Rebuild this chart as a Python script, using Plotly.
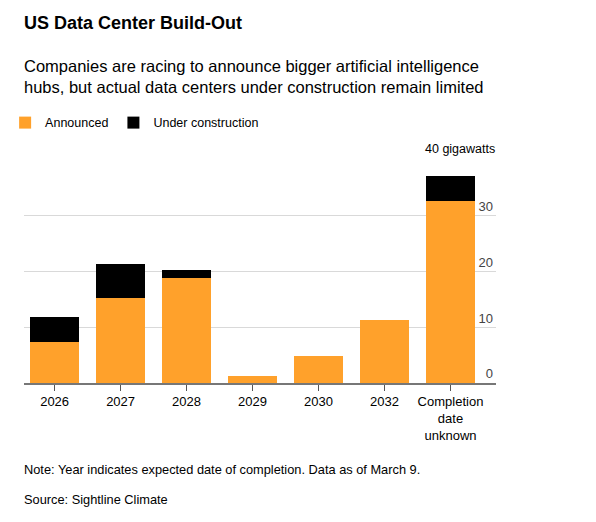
import plotly.graph_objects as go

categories = ["2026", "2027", "2028", "2029", "2030", "2032", "Completion<br>date<br>unknown"]
announced = [7.4, 15.2, 18.8, 1.2, 4.85, 11.4, 32.6]
under_construction = [4.45, 6.25, 1.45, 0, 0, 0, 4.55]

y_tickvals = [0, 10, 20, 30, 40]
y_ticktext = ["0", "10", "20", "30", ""]
y_unit_label = "40 gigawatts"

FONT = "Liberation Sans, Arial, sans-serif"

fig = go.Figure()
fig.add_trace(go.Bar(x=categories, y=announced, name="Announced",
                     marker_color="#FFA12B", marker_line_width=0))
fig.add_trace(go.Bar(x=categories, y=under_construction, name="Under construction",
                     marker_color="#000000", marker_line_width=0))

# page has an 8px body margin, so the figure is 8px smaller each way
fig.update_layout(
    width=588, height=514,
    barmode="stack", bargap=0.25,
    plot_bgcolor="white", paper_bgcolor="rgba(0,0,0,0)",
    font=dict(family=FONT, size=13, color="#000"),
    margin=dict(l=16, r=100, t=152, b=139, autoexpand=False),
    showlegend=True,
    legend=dict(orientation="h", x=-0.04, y=1.166, xanchor="left", yanchor="middle",
                traceorder="normal", font=dict(size=12.5), itemclick=False,
                bgcolor="rgba(0,0,0,0)"),
)

fig.update_xaxes(
    range=[-0.464, 6.69], showgrid=False,
    showline=True, linecolor="#777", linewidth=1.5,
    ticks="outside", ticklen=6, tickcolor="#555", tickwidth=1,
    tickfont=dict(size=13),
)
fig.update_yaxes(
    range=[0, 40.05], side="right", tickvals=y_tickvals, ticktext=y_ticktext,
    ticklabelposition="inside top", showgrid=True, gridcolor="#d9d9d9",
    gridwidth=1, zeroline=False, tickfont=dict(size=13),
)

fig.add_annotation(text=y_unit_label, xref="paper", yref="y", x=1, y=40,
                   xanchor="right", yanchor="bottom", showarrow=False, yshift=2,
                   xshift=1, font=dict(size=12.5))
fig.add_annotation(text="<b>US Data Center Build-Out</b>", xref="paper", yref="paper",
                   x=0, y=1.615, xanchor="left", yanchor="middle", showarrow=False,
                   xshift=-2, font=dict(size=18))
fig.add_annotation(text="Companies are racing to announce bigger artificial intelligence<br>"
                        "hubs, but actual data centers under construction remain limited",
                   xref="paper", yref="paper", x=0, y=1.373, xanchor="left", yanchor="middle",
                   align="left", showarrow=False, xshift=-2, font=dict(size=16.5))
fig.add_annotation(text="Note: Year indicates expected date of completion. Data as of March 9.",
                   xref="paper", yref="paper", x=0, y=-0.3875, xanchor="left", yanchor="middle",
                   showarrow=False, xshift=-2, font=dict(size=12.8))
fig.add_annotation(text="Source: Sightline Climate", xref="paper", yref="paper",
                   x=0, y=-0.522, xanchor="left", yanchor="middle",
                   showarrow=False, xshift=-2, font=dict(size=12.8))

fig.write_html("out.html")
